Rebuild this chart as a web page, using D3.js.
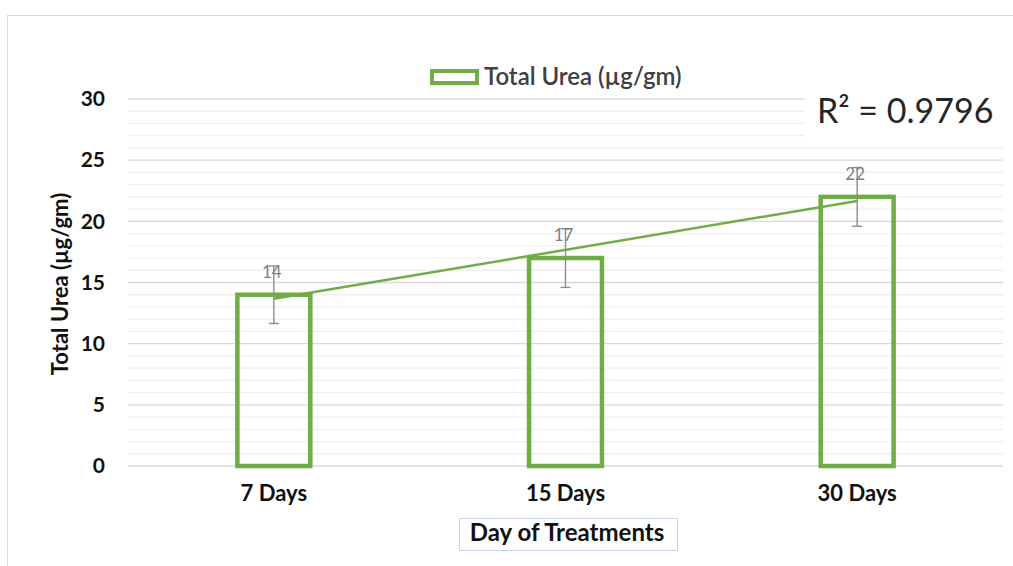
<!DOCTYPE html>
<html>
<head>
<meta charset="utf-8">
<script src="https://cdn.jsdelivr.net/npm/d3@7"></script>
<style>
  body { margin: 0; background: #fff; }
  svg { display: block; font-family: Lato, "Open Sans", sans-serif; }
</style>
</head>
<body>
<script>
// Chart data
const days = ["7 Days", "15 Days", "30 Days"];
const urea = [14, 17, 22];
const ureaErr = [2.35, 2.4, 2.4];
const yTicks = [0, 5, 10, 15, 20, 25, 30];
const seriesName = "Total Urea (µg/gm)";

var width = 1013, height = 566;
var plot = {left: 128, right: 1003, top: 99, bottom: 466};
var green = "#70AD47";

var svg = d3.select("body").append("svg")
    .attr("width", width)
    .attr("height", height);

// outer chart frame
svg.append("rect")
    .attr("x", 7.5).attr("y", 15.5)
    .attr("width", 1020).attr("height", 600)
    .attr("fill", "#fff")
    .attr("stroke", "#d9d9d9");

// Scales
var x = d3.scaleBand().domain(days)
    .range([plot.left, plot.right])
    .paddingInner(0.75).paddingOuter(0.375);
var y = d3.scaleLinear().domain([0, 30]).range([plot.bottom, plot.top]);

// minor gridlines
svg.append("g").selectAll("line")
    .data(d3.range(0, 31, 1).filter(v => v % 5 != 0))
    .enter().append("line")
    .attr("x1", plot.left).attr("x2", plot.right)
    .attr("y1", d => y(d)).attr("y2", d => y(d))
    .attr("stroke", "#efefef").attr("stroke-width", 1.3);

// major gridlines
svg.append("g").selectAll("line")
    .data(yTicks)
    .enter().append("line")
    .attr("x1", plot.left).attr("x2", plot.right)
    .attr("y1", d => y(d)).attr("y2", d => y(d))
    .attr("stroke", "#d9d9d9").attr("stroke-width", 1.3);

// Y axis labels
var yAxis = d3.axisLeft(y).tickValues(yTicks).tickSize(0).tickPadding(0);
var yg = svg.append("g")
    .attr("transform", `translate(105,0)`)
    .call(yAxis);
yg.select(".domain").remove();
yg.selectAll("text")
    .attr("font-family", "Lato, sans-serif")
    .attr("font-size", 21).attr("font-weight", "bold")
    .attr("fill", "#111");

// X axis labels
var xAxis = d3.axisBottom(x).tickSize(0).tickPadding(0);
var xg = svg.append("g")
    .attr("transform", `translate(0,485)`)
    .call(xAxis);
xg.select(".domain").remove();
xg.selectAll("text")
    .attr("font-family", "Lato, sans-serif")
    .attr("font-size", 22).attr("font-weight", "bold")
    .attr("fill", "#111");

// Bars (outlined)
svg.append("g").selectAll("rect")
    .data(urea)
    .enter().append("rect")
    .attr("x", (d, i) => x(days[i]))
    .attr("y", d => y(d))
    .attr("width", x.bandwidth())
    .attr("height", d => y(0) - y(d))
    .attr("fill", "none")
    .attr("stroke", green)
    .attr("stroke-width", 4.5);

// Linear trendline through bar values
var xi = urea.map((d, i) => i + 1);
var mx = d3.mean(xi), my = d3.mean(urea);
var slope = d3.sum(xi, (v, i) => (v - mx) * (urea[i] - my)) / d3.sum(xi, v => (v - mx) * (v - mx));
var icept = my - slope * mx;
var fitted = xi.map(v => icept + slope * v);
var ssRes = d3.sum(urea, (d, i) => (d - fitted[i]) ** 2);
var ssTot = d3.sum(urea, d => (d - my) ** 2);
var r2 = 1 - ssRes / ssTot;

var cx = d => x(d) + x.bandwidth() / 2;
svg.append("path")
    .datum([0, days.length - 1])
    .attr("d", d3.line()
        .x(i => cx(days[i]))
        .y(i => y(fitted[i])))
    .attr("fill", "none")
    .attr("stroke", green)
    .attr("stroke-width", 2.5);

// Error bars
var eb = svg.append("g").attr("stroke", "#8c8c8c").attr("stroke-width", 1.4);
urea.forEach(function(d, i) {
    var c = cx(days[i]);
    eb.append("line").attr("x1", c).attr("x2", c)
        .attr("y1", y(d + ureaErr[i])).attr("y2", y(d - ureaErr[i]));
    eb.append("line").attr("x1", c - 5).attr("x2", c + 5)
        .attr("y1", y(d + ureaErr[i])).attr("y2", y(d + ureaErr[i]));
    eb.append("line").attr("x1", c - 5).attr("x2", c + 5)
        .attr("y1", y(d - ureaErr[i])).attr("y2", y(d - ureaErr[i]));
});

// Data labels
svg.append("g").selectAll("text")
    .data(urea)
    .enter().append("text")
    .attr("x", (d, i) => cx(days[i]) - 2)
    .attr("y", d => y(d) - 17)
    .attr("text-anchor", "middle")
    .attr("font-size", 17)
    .attr("fill", "#7f7f7f")
    .text(d => d);

// R² label with white background
svg.append("rect")
    .attr("x", 805).attr("y", 95)
    .attr("width", 198).attr("height", 46)
    .attr("fill", "#fff");
svg.append("text")
    .attr("x", 817).attr("y", 123)
    .attr("font-size", 34)
    .attr("fill", "#262626")
    .text("R² = " + r2.toFixed(4));

// Legend
svg.append("rect")
    .attr("x", 432).attr("y", 71)
    .attr("width", 45).attr("height", 12)
    .attr("fill", "none")
    .attr("stroke", green).attr("stroke-width", 4);
svg.append("text")
    .attr("x", 484).attr("y", 85)
    .attr("font-size", 24).attr("font-weight", 600)
    .attr("fill", "#404040")
    .text(seriesName);

// Axis titles
svg.append("text")
    .attr("transform", "translate(68,284) rotate(-90)")
    .attr("text-anchor", "middle")
    .attr("font-size", 22).attr("font-weight", "bold")
    .attr("fill", "#111")
    .text("Total Urea (µg/gm)");

svg.append("rect")
    .attr("x", 459.5).attr("y", 518.5)
    .attr("width", 218).attr("height", 32)
    .attr("fill", "#fff")
    .attr("stroke", "#c5d5ee");
svg.append("text")
    .attr("x", 567).attr("y", 541)
    .attr("text-anchor", "middle")
    .attr("font-size", 24).attr("font-weight", "bold")
    .attr("fill", "#111")
    .text("Day of Treatments");
</script>
</body>
</html>
